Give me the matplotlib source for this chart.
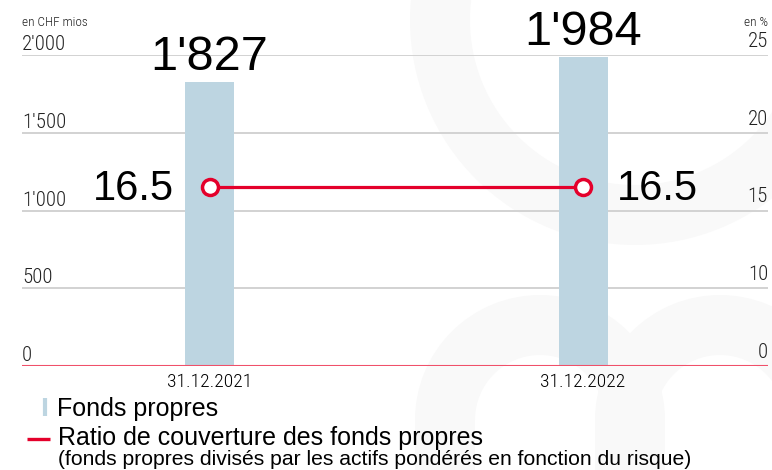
import numpy as np
import matplotlib
matplotlib.use("Agg")
import matplotlib.pyplot as plt
from matplotlib.patches import Wedge, Rectangle
from matplotlib import font_manager

# data
dates = ["31.12.2021", "31.12.2022"]
fonds_propres = [1827, 1984]          # en CHF mios
fonds_labels = ["1'827", "1'984"]
ratio = [16.5, 16.5]                  # en %
left_ticks = [0, 500, 1000, 1500, 2000]
left_labels = ["0", "500", "1'000", "1'500", "2'000"]
right_ticks = [5, 10, 15, 20, 25]
right_labels = ["0", "10", "15", "20", "25"]

BAR = "#bdd5e1"
RED = "#e4002b"
WM = "#f9f9f9"

# pick a condensed face that is actually installed
installed = {f.name for f in font_manager.fontManager.ttflist}
narrow_pref = ["Liberation Sans Narrow", "Roboto Condensed", "PT Sans Narrow",
               "Open Sans Condensed", "Fira Sans Condensed", "Archivo Narrow",
               "Asap Condensed", "IBM Plex Sans Condensed", "Encode Sans Condensed"]
narrow = [n for n in narrow_pref if n in installed][:1]
NARROW = narrow + ["Liberation Sans", "DejaVu Sans"]
ARIAL = ["Liberation Sans", "DejaVu Sans"]
NW = "light"

fig = plt.figure(figsize=(7.72, 4.70), dpi=100)

# background axes in pixel coords (watermark + legend)
bg = fig.add_axes([0, 0, 1, 1], zorder=0)
bg.set_xlim(0, 772)
bg.set_ylim(470, 0)
bg.axis("off")
bg.add_patch(Wedge((635, 20), 225, 0, 360, width=60, color=WM, lw=0))
for cx in (540, 720):
    bg.add_patch(Wedge((cx, 420), 125, 180, 360, width=60, color=WM, lw=0))
    bg.add_patch(Rectangle((cx - 125, 420), 60, 60, color=WM, lw=0))
    bg.add_patch(Rectangle((cx + 65, 420), 60, 60, color=WM, lw=0))

ax = fig.add_axes([22 / 772, 104 / 470, 746 / 772, 311 / 470], zorder=1)
ax.patch.set_alpha(0)
x = np.arange(len(dates))
ax.bar(x, fonds_propres, width=0.131, color=BAR, zorder=2)
ax.set_xlim(-0.502, 1.495)
ax.set_ylim(0, 2000)
for v in left_ticks[1:]:
    ax.axhline(v, color="#cfcfcf", lw=1.3, zorder=1)
ax.axhline(0, color="#f0506a", lw=1.5, zorder=3)
for s in ax.spines.values():
    s.set_visible(False)
ax.set_yticks([])
ax.set_xticks(x, dates, family=NARROW, fontsize=14, fontweight=NW)
ax.tick_params(axis="x", length=0, pad=5)

for v, lab in zip(left_ticks, left_labels):
    ax.annotate(lab, (0, v), xycoords=("axes fraction", "data"), xytext=(0, 5),
                textcoords="offset pixels", ha="left", va="baseline",
                family=NARROW, fontsize=15, fontweight=NW, color="#222222")

for xi, v, lab in zip(x, fonds_propres, fonds_labels):
    ax.annotate(lab, (xi, v), xytext=(0, 12), textcoords="offset pixels",
                ha="center", va="baseline", family=ARIAL, fontsize=35,
                annotation_clip=False)

ax2 = ax.twinx()
ax2.set_zorder(2)
ax2.set_ylim(5, 25)
ax2.set_yticks([])
for s in ax2.spines.values():
    s.set_visible(False)
ax2.plot(x, ratio, color=RED, lw=2.3, marker="o", ms=11.5, mfc="white",
         mec=RED, mew=2.5, zorder=4)
for v, lab in zip(right_ticks, right_labels):
    ax2.annotate(lab, (1, v), xycoords=("axes fraction", "data"), xytext=(0, 8),
                 textcoords="offset pixels", ha="right", va="baseline",
                 family=NARROW, fontsize=15, fontweight=NW, color="#222222")

ax2.annotate(f"{ratio[0]}", (x[0], ratio[0]), xytext=(-36, -13),
             textcoords="offset pixels", ha="right", va="baseline",
             family=ARIAL, fontsize=30)
ax2.annotate(f"{ratio[1]}", (x[1], ratio[1]), xytext=(34, -13),
             textcoords="offset pixels", ha="left", va="baseline",
             family=ARIAL, fontsize=30)

fig.text(22 / 772, 1 - 26 / 470, "en CHF mios", family=NARROW, fontsize=9.5,
         fontweight=NW, va="baseline", ha="left", color="#222222")
fig.text(768 / 772, 1 - 26 / 470, "en %", family=NARROW, fontsize=9.5,
         fontweight=NW, va="baseline", ha="right", color="#222222")

# legend
bg.plot([45, 45], [398, 416], color=BAR, lw=3, solid_capstyle="butt")
bg.plot([27, 50], [439, 439], color=RED, lw=2.4, solid_capstyle="butt")
bg.text(57, 416, "Fonds propres", family=ARIAL, fontsize=18, va="baseline")
bg.text(58, 445, "Ratio de couverture des fonds propres", family=ARIAL,
        fontsize=18, va="baseline")
bg.text(58, 465, "(fonds propres divisés par les actifs pondérés en fonction du risque)",
        family=ARIAL, fontsize=15.2, va="baseline")

fig.savefig("out.png", dpi=100)
